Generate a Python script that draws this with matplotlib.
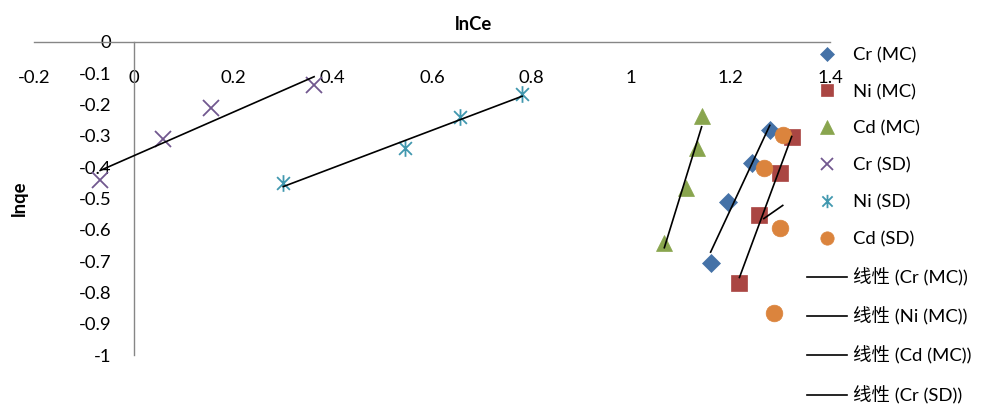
import numpy as np
import matplotlib
matplotlib.use("Agg")
import matplotlib.pyplot as plt
from matplotlib.path import Path

plt.rcParams['font.family'] = ['Lato', 'Noto Sans CJK SC', 'DejaVu Sans']
plt.rcParams['axes.unicode_minus'] = False

# ---- data (lnCe, lnqe) ----
cr_mc_x = [1.279, 1.243, 1.194, 1.160]
cr_mc_y = [-0.282, -0.385, -0.510, -0.705]
ni_mc_x = [1.323, 1.299, 1.257, 1.218]
ni_mc_y = [-0.304, -0.417, -0.554, -0.769]
cd_mc_x = [1.142, 1.132, 1.110, 1.067]
cd_mc_y = [-0.237, -0.340, -0.468, -0.641]
cr_sd_x = [-0.067, 0.059, 0.155, 0.363]
cr_sd_y = [-0.440, -0.311, -0.212, -0.137]
ni_sd_x = [0.301, 0.545, 0.656, 0.781]
ni_sd_y = [-0.452, -0.340, -0.240, -0.167]
cd_sd_x = [1.305, 1.267, 1.299, 1.287]
cd_sd_y = [-0.298, -0.401, -0.593, -0.865]

series_names = ["Cr (MC)", "Ni (MC)", "Cd (MC)", "Cr (SD)", "Ni (SD)", "Cd (SD)"]
x_ticks = [-0.2, 0, 0.2, 0.4, 0.6, 0.8, 1.0, 1.2, 1.4]
x_tick_labels = ["-0.2", "0", "0.2", "0.4", "0.6", "0.8", "1", "1.2", "1.4"]
y_ticks = [0, -0.1, -0.2, -0.3, -0.4, -0.5, -0.6, -0.7, -0.8, -0.9, -1.0]
y_tick_labels = ["0", "-0.1", "-0.2", "-0.3", "-0.4", "-0.5", "-0.6", "-0.7", "-0.8", "-0.9", "-1"]

FS = 13.3

# asterisk marker (x with vertical bar)
star = Path([(-1, -1), (1, 1), (-1, 1), (1, -1), (0, -1.3), (0, 1.3)],
            [Path.MOVETO, Path.LINETO, Path.MOVETO, Path.LINETO, Path.MOVETO, Path.LINETO])

styles = [
    dict(marker='D', color='#4572A7', ms=9),
    dict(marker='s', color='#AA4643', ms=11),
    dict(marker='^', color='#89A54E', ms=12),
    dict(marker='x', color='#71588F', ms=11, mew=1.3),
    dict(marker=star, color='#4198AF', ms=12, mew=1.3),
    dict(marker='o', color='#DB843D', ms=12),
]
data = [(cr_mc_x, cr_mc_y), (ni_mc_x, ni_mc_y), (cd_mc_x, cd_mc_y),
        (cr_sd_x, cr_sd_y), (ni_sd_x, ni_sd_y), (cd_sd_x, cd_sd_y)]

fig = plt.figure(figsize=(9.83, 4.04), dpi=100)
ax = fig.add_axes([34/983, 1-355/404, (830-34)/983, (355-42)/404])
ax.set_xlim(-0.2, 1.4)
ax.set_ylim(-1, 0)

handles = []
for (xs, ys), st, name in zip(data, styles, series_names):
    h, = ax.plot(xs, ys, linestyle='none', marker=st['marker'], color=st['color'],
                 markersize=st['ms'], markeredgewidth=st.get('mew', 0.5),
                 markeredgecolor=st['color'], label=name, zorder=3)
    handles.append(h)

trend_handles = []
for (xs, ys), name in zip(data, series_names):
    xs = np.array(xs); ys = np.array(ys)
    k, b = np.polyfit(xs, ys, 1)
    xx = np.array([xs.min(), xs.max()])
    ln, = ax.plot(xx, k*xx + b, color='black', lw=1.2, zorder=4, label="线性 (" + name + ")")
    trend_handles.append(ln)

# spines
for s in ['right', 'bottom']:
    ax.spines[s].set_visible(False)
ax.spines['left'].set_position(('data', 0))
for s in ['left', 'top']:
    ax.spines[s].set_color('#868686')
    ax.spines[s].set_linewidth(1.0)

ax.set_xticks(x_ticks)
ax.set_xticklabels(x_tick_labels)
ax.set_yticks(y_ticks)
ax.set_yticklabels(y_tick_labels)
ax.tick_params(axis='x', bottom=False, labelbottom=False, top=False, labeltop=True,
               length=0, pad=-32, labelsize=FS)
ax.tick_params(axis='y', length=0, pad=16, labelsize=FS)

fig.text(474/983, 1-25/404, "lnCe", ha='center', va='center', fontsize=FS, fontweight='bold')
fig.text(19/983, 1-198/404, "lnqe", ha='center', va='center', fontsize=FS, fontweight='bold',
         rotation=90)

# legend (the reference legend is cut off after the fourth trend line entry)
leg = fig.legend(handles=handles + trend_handles[:4], loc='upper left',
                 bbox_to_anchor=(807/983, 1-47/404), frameon=False, fontsize=FS,
                 borderpad=0, borderaxespad=0, handlelength=2.17, handletextpad=0.32,
                 labelspacing=1.12, markerscale=0.8)

fig.savefig("out.png", dpi=100)
